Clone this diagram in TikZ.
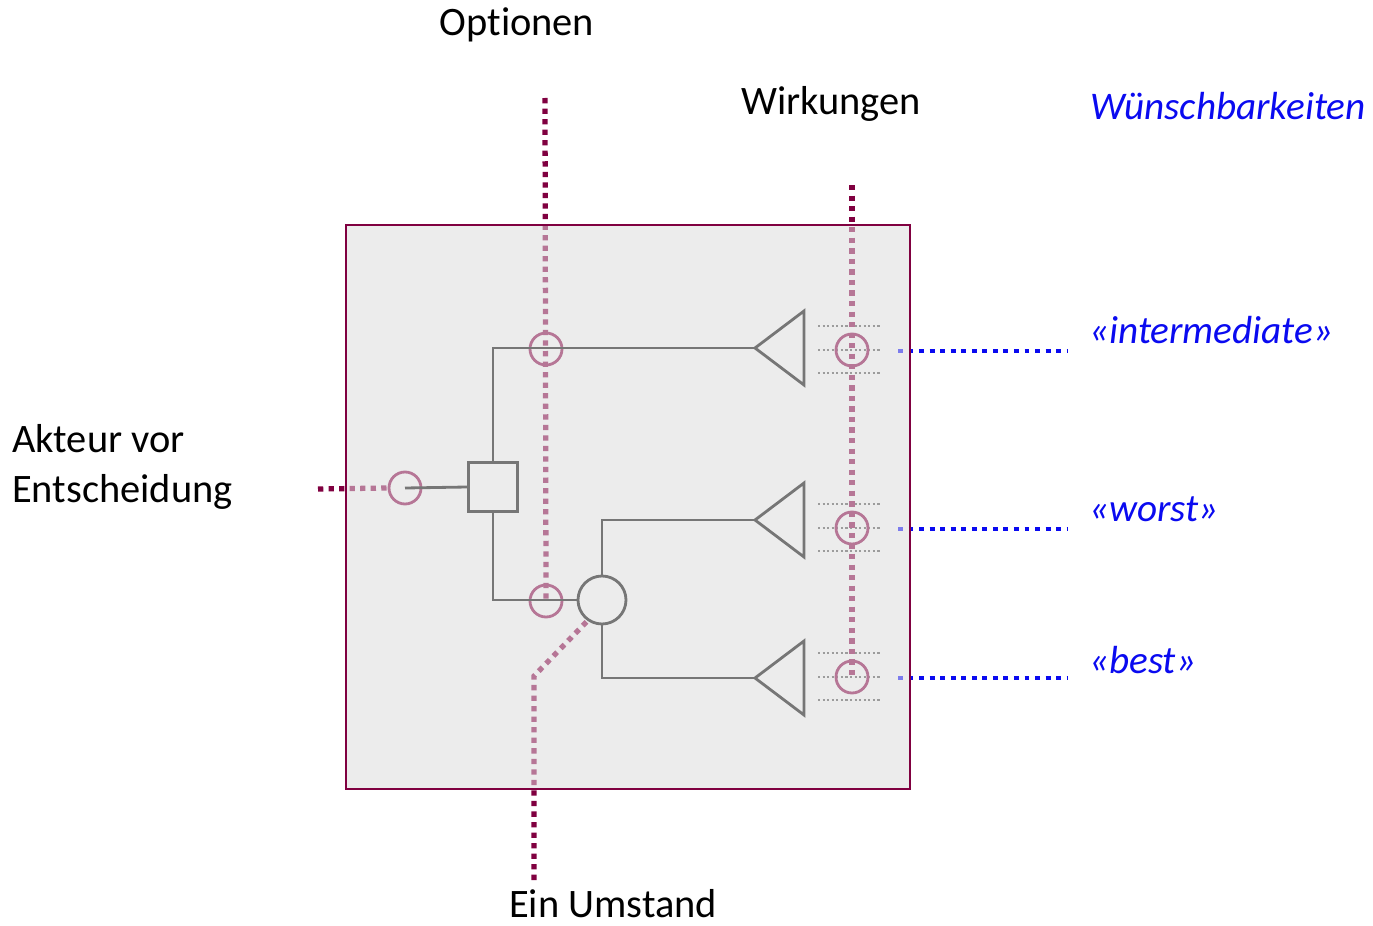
\documentclass[tikz,border=0pt]{standalone}
\usepackage{fontspec}
\setmainfont[RawFeature={-liga;-clig}]{Carlito}
\usepackage{xcolor}
\definecolor{darkmag}{RGB}{128,0,64}
\definecolor{panelgray}{RGB}{236,236,236}
\definecolor{wishblue}{RGB}{10,10,240}
\usepackage{tikz}

\begin{document}
\begin{tikzpicture}[x=0.02cm, y=-0.02cm, every node/.style={font=\fontsize{23}{28}\selectfont},
  magdots/.style={darkmag, line width=3pt, dash pattern=on 3pt off 3pt},
  bluedots/.style={wishblue, line width=2.8pt, dash pattern=on 2.8pt off 3.2pt},
  greydots/.style={black!70, line width=1pt, dash pattern=on 1.2pt off 1.4pt},
  fig/.style={black, line width=1.6pt},
  ring/.style={circle, draw=darkmag, line width=1.6pt, minimum size=0.64cm, inner sep=0pt},
  wish/.style={wishblue, font=\fontsize{22.3}{27}\selectfont\itshape}]
  \useasboundingbox (0,0) rectangle (1373,926);
  \fill[panelgray] (346,225) rectangle (910,789);
  \coordinate (akt0) at (318,489);
  \coordinate (opt0) at (545,98);
  \coordinate (wirk0) at (852,185);
  \coordinate (ums0) at (534,880);
  \coordinate (ums1) at (534,676);
  \node[ring] (akt) at (405,488) {};
  \node[draw=black, line width=1.6pt, minimum size=0.98cm, inner sep=0pt] (dec) at (493,487) {};
  \node[ring] (opt1) at (546,349) {};
  \node[ring] (opt2) at (546,601) {};
  \node[circle, fig, draw, minimum size=0.96cm, inner sep=0pt] (chance) at (602,600) {};
  \foreach \i/\y in {1/348,2/520,3/678} {
    \coordinate (tip\i) at (755,\y);
    \draw[fig, line join=miter] (tip\i) -- ++(49,-37) -- ++(0,74) -- cycle;
  }
  \foreach \i/\y in {1/350,2/528,3/677} {
    \draw[greydots] (818,\y-24) -- (880,\y-24);
    \draw[greydots] (818,\y) -- (880,\y);
    \draw[greydots] (818,\y+23) -- (880,\y+23);
    \node[ring] (eff\i) at (852,\y) {};
    \coordinate (wish\i) at (898,\y+1);
    \coordinate (wend\i) at (1068,\y+1);
    \draw[bluedots] (wish\i) -- (wend\i);
  }
  \draw[fig] (akt.center) -- (dec.west);
  \draw[fig] (dec.north) |- (tip1);
  \draw[fig] (dec.south) |- (chance.west);
  \draw[fig] (chance.north) |- (tip2);
  \draw[fig] (chance.south) |- (tip3);
  \draw[magdots] (akt0) -- (akt.west);
  \draw[magdots] (opt0) -- (opt2.center);
  \draw[magdots] (wirk0) -- (eff3.center);
  \draw[magdots] (ums0) -- (ums1) -- (chance.235);
  \fill[panelgray, opacity=0.5] (346,225) rectangle (910,789);
  \draw[darkmag, line width=0.8pt] (346,225) rectangle (910,789);
  \node (optl) at (517,25) {Opt\kern0pt ionen};
  \node (wirkl) at (831,104) {Wirkungen};
  \node[anchor=west, align=left] (aktl) at (6,467) {Akteur vor\\Entscheidung};
  \node (umsl) at (613,904) {Ein Umstand};
  \node[wish] (wunl) at (1228,106) {Wünschbarkeiten};
  \node[wish, anchor=west] (w1) at (1083,330) {«intermediate»};
  \node[wish, anchor=west] (w2) at (1083,509) {«worst»};
  \node[wish, anchor=west] (w3) at (1083,660) {«best»};
\end{tikzpicture}
\end{document}
